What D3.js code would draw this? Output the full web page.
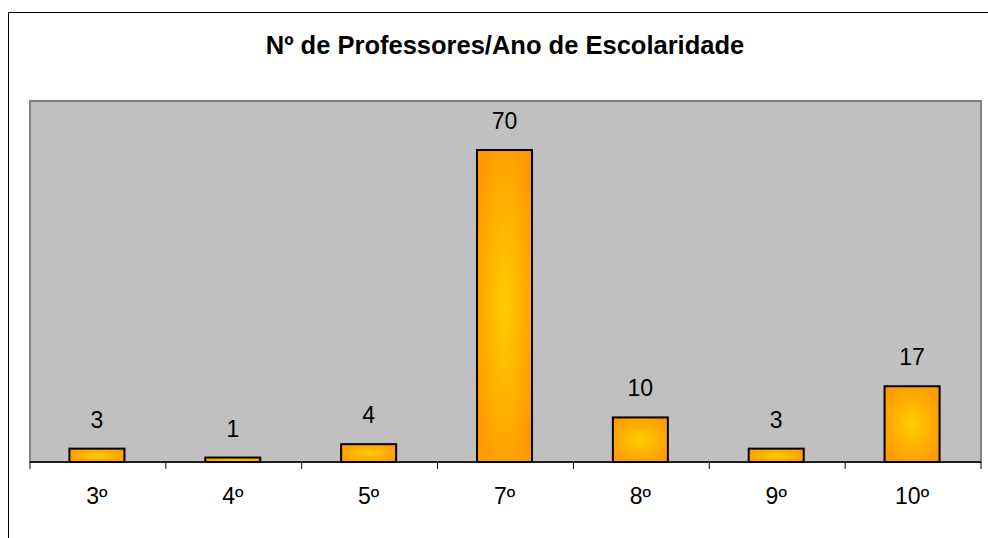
<!DOCTYPE html>
<html lang="pt">
<head>
  <meta charset="UTF-8">
  <title>Nº de Professores/Ano de Escolaridade</title>
  <script src="https://cdn.jsdelivr.net/npm/d3@7"></script>
  <style>
    body { margin: 0; background: #fff; overflow: hidden; }
    svg { display: block; }
    text { font-family: "Liberation Sans", Arial, sans-serif; }
  </style>
</head>
<body>
  <svg width="988" height="538" id="chart"></svg>
  <script>
    const categories = ['3º', '4º', '5º', '7º', '8º', '9º', '10º'];
    const values = [3, 1, 4, 70, 10, 3, 17];
    const yMax = 81;

    const svg = d3.select('#chart');
    const margin = { top: 101, right: 7, bottom: 76, left: 30 };
    const innerWidth = 988 - margin.left - margin.right;
    const innerHeight = 538 - margin.top - margin.bottom;

    // gradient: orange edges, yellow centre
    const defs = svg.append('defs');
    const grad = defs.append('radialGradient')
      .attr('id', 'barGrad')
      .attr('cx', '50%').attr('cy', '50%').attr('r', '60%');
    grad.append('stop').attr('offset', '0%').attr('stop-color', '#ffcc00');
    grad.append('stop').attr('offset', '100%').attr('stop-color', '#ff9900');

    // outer frame (top and left edges visible)
    svg.append('path')
      .attr('d', 'M8.5,538V12.5H988')
      .attr('fill', 'none').attr('stroke', '#000').attr('stroke-width', 1);

    svg.append('text')
      .attr('x', 505).attr('y', 54)
      .attr('text-anchor', 'middle')
      .attr('font-size', '25.5px').attr('font-weight', 'bold')
      .text('Nº de Professores/Ano de Escolaridade');

    const x = d3.scaleBand().domain(categories).range([0, innerWidth]).padding(0);
    const y = d3.scaleLinear().domain([0, yMax]).range([innerHeight, 0]);

    const g = svg.append('g').attr('transform', `translate(${margin.left},${margin.top})`);

    g.append('rect')
      .attr('width', innerWidth).attr('height', innerHeight)
      .attr('fill', '#c0c0c0').attr('stroke', '#808080').attr('stroke-width', 2);

    const barW = x.bandwidth() * 0.405;
    g.selectAll('.bar').data(values).join('rect')
      .attr('class', 'bar')
      .attr('x', (d, i) => x(categories[i]) + x.bandwidth() / 2 - barW / 2 - 1)
      .attr('y', d => y(d))
      .attr('width', barW)
      .attr('height', d => innerHeight - y(d))
      .attr('fill', 'url(#barGrad)')
      .attr('stroke', '#000').attr('stroke-width', 2);

    g.selectAll('.val').data(values).join('text')
      .attr('class', 'val')
      .attr('x', (d, i) => x(categories[i]) + x.bandwidth() / 2 - 1)
      .attr('y', d => y(d) - 21)
      .attr('text-anchor', 'middle')
      .attr('font-size', '23px')
      .text(d => d);

    // x axis with ticks between categories
    const xAxis = g.append('g').attr('transform', `translate(0,${innerHeight})`);
    xAxis.append('line')
      .attr('x1', 0).attr('x2', innerWidth)
      .attr('stroke', '#000').attr('stroke-width', 1.5);
    const edges = categories.map(c => x(c)).concat([innerWidth]);
    xAxis.selectAll('.tk').data(edges).join('line')
      .attr('class', 'tk')
      .attr('x1', d => d).attr('x2', d => d)
      .attr('y1', 0).attr('y2', 7)
      .attr('stroke', '#000');
    xAxis.selectAll('.lbl').data(categories).join('text')
      .attr('class', 'lbl')
      .attr('x', d => x(d) + x.bandwidth() / 2 - 1)
      .attr('y', 42)
      .attr('text-anchor', 'middle')
      .attr('font-size', '23px')
      .text(d => d);
  </script>
</body>
</html>
